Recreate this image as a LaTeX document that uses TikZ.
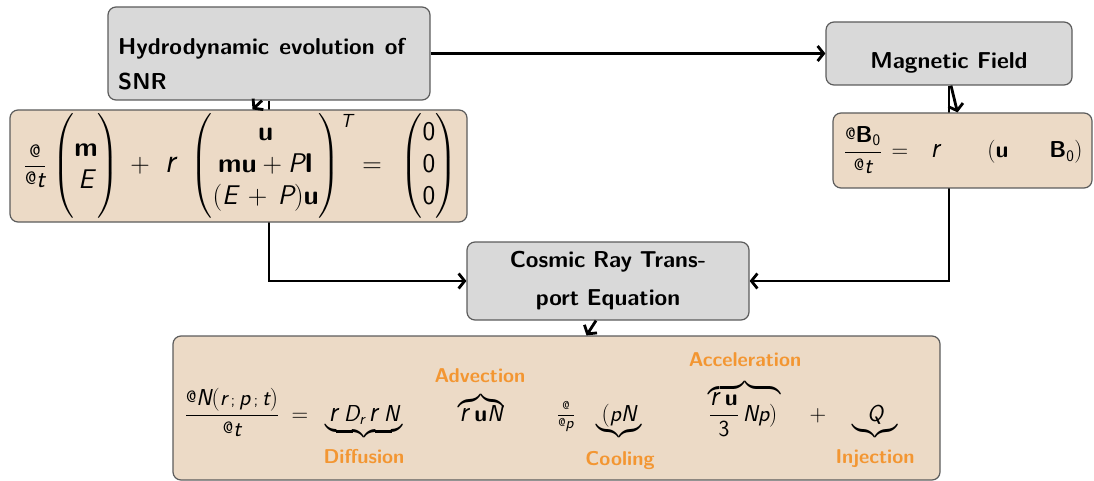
\RequirePackage{fix-cm}
\documentclass[tikz,border=0pt]{standalone}
\usepackage{fontspec}
\usepackage{amsmath}
\usepackage{graphicx}
\usetikzlibrary{arrows.meta,backgrounds}

\definecolor{titlegray}{HTML}{D9D9D9}
\definecolor{eqtan}{HTML}{ECDAC6}
\definecolor{edgegray}{HTML}{5C5C5C}
\definecolor{accent}{HTML}{F39632}

% glyphs of the equations as they are typeset
\newcommand{\sv}[1]{\textsf{\itshape #1}}
\newcommand{\bv}[1]{\textsf{\bfseries #1}}
\newcommand{\pa}{\text{\sffamily\raisebox{0.3ex}{\scalebox{0.72}{@}}}}
\newcommand{\nab}{\text{\sffamily\scalebox{1.15}[1.3]{\itshape r}}}
\newcommand{\semi}{\text{\sffamily\scalebox{0.7}{;}}}

\tikzset{
  titlebox/.style={draw=edgegray, line width=1.2pt, rounded corners=8pt, fill=titlegray},
  eqbox/.style={draw=edgegray, line width=1.2pt, rounded corners=8pt, fill=eqtan},
  titletext/.style={font=\sffamily\bfseries\fontsize{23}{36}\selectfont, inner sep=0pt},
  part/.style={inner sep=0pt, anchor=base},
  hpart/.style={part, font=\fontsize{27}{32}\selectfont},
  mpart/.style={part, font=\fontsize{23}{27}\selectfont},
  termlabel/.style={part, text=accent, font=\sffamily\bfseries\fontsize{20}{24}\selectfont},
  link/.style={line width=2.8pt, -{Straight Barb[length=6pt,width=15pt]}},
}

\begin{document}
\begin{tikzpicture}[x=1pt,y=-1pt]
\useasboundingbox (0,0) rectangle (1094,481);

% title boxes
\node[titlebox, minimum width=322pt, minimum height=93pt] (hydro) at (269,53.5) {};
\node[titletext, anchor=base west, text width=287pt, align=left] (hydrotext) at (118,55)
  {\hbox to 287pt{Hydrodynamic\hfill evolution\hfill of}\\[-1pt]SNR};
\node[titlebox, minimum width=246pt, minimum height=63pt] (mag) at (949,53.5) {};
\node[titletext, anchor=base] (magtext) at (949,68.5) {Magnetic Field};
\node[titlebox, minimum width=282pt, minimum height=78pt] (crte) at (608,281) {};
\node[titletext, anchor=base, text width=270pt, align=center] (crtetext) at (608,267)
  {Cosmic Ray Trans-\\[2pt]port Equation};

% fluid equations
\node[eqbox, minimum width=457pt, minimum height=112pt] (hydroeq) at (238.5,166) {};
\node[part, font=\fontsize{36}{40}\selectfont] (h1) at (35,175) {$\tfrac{\pa}{\pa\sv{t}}$};
\node[hpart] (h2) at (86,173)
  {$\left(\begin{matrix}\bv{m}\\ \sv{E}\end{matrix}\vphantom{\begin{matrix}0\\0\\0\end{matrix}}\right)$};
\node[hpart] (h3) at (140,173) {$+$};
\node[hpart] (h4) at (170,173) {$\nab$};
\node[hpart] (h5) at (272,173)
  {$\left(\begin{matrix}\bv{u}\\ \bv{mu}+\sv{P}\bv{I}\\ (\sv{E}\,+\,\sv{P})\bv{u}\end{matrix}\right)^{\text{\sffamily\itshape\raisebox{-6pt}{T}}}$};
\node[hpart] (h6) at (372,173) {$=$};
\node[hpart] (h7) at (429,173)
  {$\left(\begin{matrix}\textsf{0}\\ \textsf{0}\\ \textsf{0}\end{matrix}\right)$};

% induction equation
\node[eqbox, minimum width=259pt, minimum height=75pt] (mageq) at (962.5,150.5) {};
\node[mpart] (m1) at (863,158) {$\dfrac{\pa\bv{B}_{\textsf{0}}}{\pa\sv{t}}$};
\node[mpart] (m2) at (900,158) {$=$};
\node[mpart] (m3) at (935,158) {$\nab$};
\node[mpart] (m4) at (998,158) {$(\bv{u}$};
\node[mpart] (m5) at (1066,158) {$\bv{B}_{\textsf{0}})$};

% transport equation
\node[eqbox, minimum width=767pt, minimum height=144pt] (eqbot) at (556.5,408) {};
\node[mpart] (b1) at (232,421)
  {$\dfrac{\pa\sv{N}(\sv{r}\,\semi\,\sv{p}\,\semi\,\sv{t})}{\pa\sv{t}}$};
\node[mpart] (b2) at (300,421) {$=$};
\node[mpart] (b3) at (364,421)
  {$\underbrace{\vphantom{(}\,\nab\;\sv{D}_{\sv{r}}\,\nab\;\sv{N}\,}$};
\node[mpart] (b4) at (481,421) {$\overbrace{\nab\;\bv{u}\sv{N}}$};
\node[mpart] (b5) at (566,421) {$\tfrac{\pa}{\pa\sv{p}}$};
\node[mpart] (b6) at (619,421) {$\underbrace{\vphantom{(}(\sv{p}\sv{N}}$};
\node[mpart] (b7) at (745,421) {$\overbrace{\dfrac{\nab\;\bv{u}}{\textsf{3}}\,\sv{N}\sv{p})\,}$};
\node[mpart] (b8) at (818,421) {$+$};
\node[mpart] (b9) at (875,421) {$\underbrace{\vphantom{(}\hspace{13pt}\sv{Q}\hspace{13pt}}$};
\node[termlabel] (diffusion) at (364,463) {Diffusion};
\node[termlabel] (advection) at (480,382) {Advection};
\node[termlabel] (cooling) at (620,465) {Cooling};
\node[termlabel] (acceleration) at (745,366) {Acceleration};
\node[termlabel] (injection) at (875,463) {Injection};

% connectors
\draw[link] (hydro) -- (mag);
\begin{scope}[on background layer]
  \draw[link] (hydro.south) |- (crte.west);
  \draw[link] (mag.south) |- (crte.east);
\end{scope}
\draw[link] ([xshift=-7pt]hydro.south) -- ([xshift=14pt]hydroeq.north);
\draw[link] ([xshift=2pt]mag.south) -- ([xshift=-5pt]mageq.north);
\draw[link] ([xshift=-12pt]crte.south) -- ([xshift=30pt]eqbot.north);
\end{tikzpicture}
\end{document}
